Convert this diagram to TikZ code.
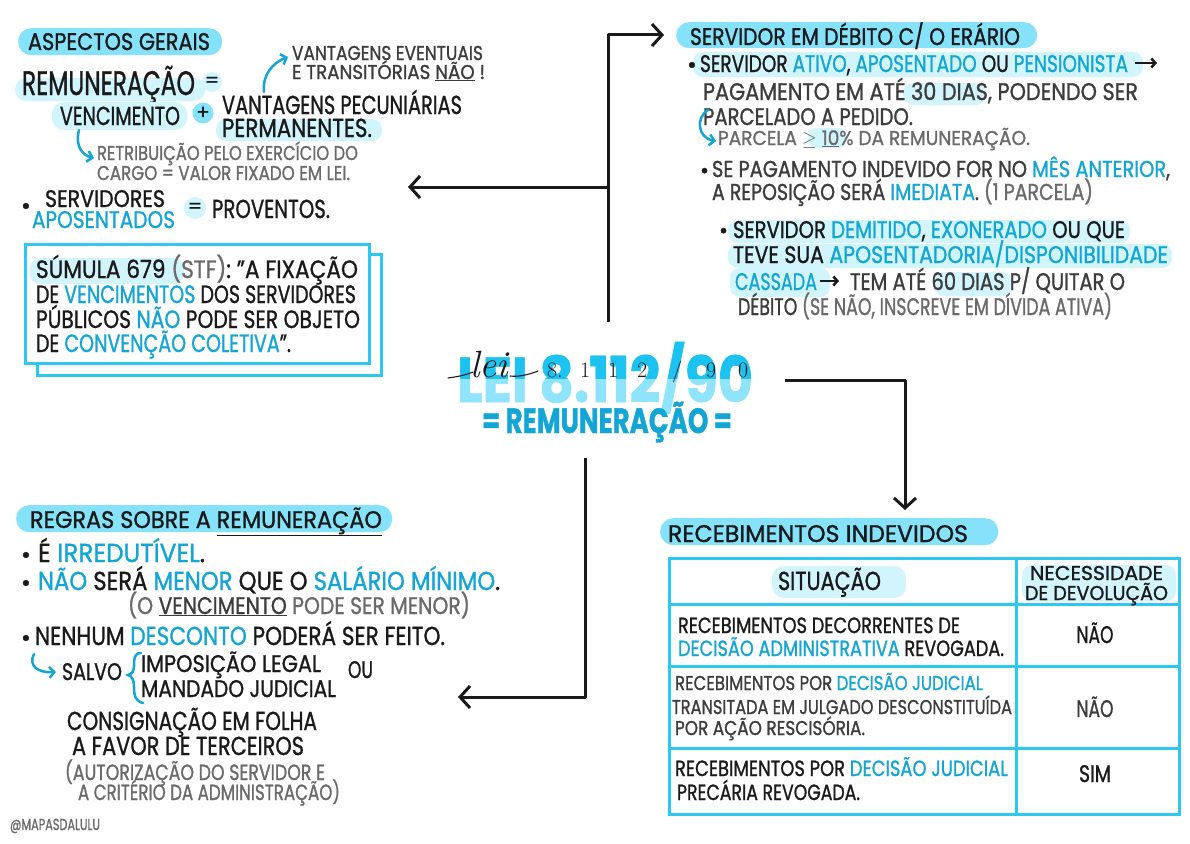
\documentclass[tikz,border=0pt]{standalone}
\usepackage{fontspec}
\usepackage{graphicx}
\usetikzlibrary{arrows.meta}
\setmainfont{Poppins}[FakeBold=1.2]
\newfontfamily\cur{Latin Modern Roman}
\definecolor{pillc}{HTML}{86E2FA}
\definecolor{palec}{HTML}{D2F4FC}
\definecolor{blu}{HTML}{12A5D6}
\definecolor{cyl}{HTML}{2BC8F2}
\definecolor{gry}{HTML}{6A6A6A}
\definecolor{ink}{HTML}{1A1A1A}
\definecolor{dk}{HTML}{3C3C3C}
\definecolor{leitop}{HTML}{1CC2F0}
\definecolor{leibot}{HTML}{8FE4FB}
\newsavebox\fitbox
\newcommand\fitx[2]{\sbox\fitbox{#2}\pgfmathsetmacro\fitf{#1/\the\wd\fitbox}\scalebox{\fitf}[1]{\usebox\fitbox}}
\newcommand\fs[1]{\fontsize{#1}{#1}\selectfont}
\newcommand\hb[1]{\textcolor{blu}{#1}}
\newcommand\hg[1]{\textcolor{gry}{#1}}
\begin{document}
\begin{tikzpicture}[x=1pt,y=-1pt,
  t/.style={anchor=base west, inner sep=0pt, outer sep=0pt, text=ink},
  dg/.style={anchor=base west, inner sep=0pt, outer sep=0pt, text=ink, font=\cur\fs{22}},
  pill/.style={fill=pillc, rounded corners=13pt, inner sep=0pt, anchor=north west},
  hl/.style={fill=palec, rounded corners=10pt},
  arr/.style={line width=3pt, ink, line join=round, -{Straight Barb[length=10pt,width=22pt]}},
  barr/.style={line width=2.5pt, blu, line cap=round, -{Straight Barb[length=5pt,width=11pt]}},
  cbox/.style={draw=cyl, line width=3pt, inner sep=0pt, anchor=north west},
  dot/.style={circle, inner sep=0pt, font=\fs{20}, text=ink}]
\useasboundingbox[fill=white] (0,0) rectangle (1190,843);

% ================= TOP LEFT =================
\node[pill, minimum width=204, minimum height=27] (asp) at (18,28) {};
\node[t, font=\fs{24}] (aspT) at (28,50) {\fitx{182}{ASPECTOS GERAIS}};

\fill[hl, rounded corners=11pt] (15,78) rectangle (205,101);
\node[t, font=\fs{34}] (rem) at (22,95) {\fitx{173}{REMUNERAÇÃO}};
\node[dot, fill=palec, minimum size=20] (eq1) at (212,82) {=};

\fill[hl, rounded corners=12pt] (52,102) rectangle (187,130);
\node[t, font=\fs{26}] (venc) at (60,125) {\fitx{120}{VENCIMENTO}};
\node[dot, fill=pillc, minimum size=21] (plus) at (203,113) {+};
\fill[hl] (216,119) rectangle (382,141);
\node[t, font=\fs{26}] (vp1) at (222,114) {\fitx{240}{VANTAGENS PECUNIÁRIAS}};
\node[t, font=\fs{26}] (vp2) at (222,137) {\fitx{150}{PERMANENTES.}};

\coordinate (a1s) at (264,92); \coordinate (a1e) at (288,57);
\draw[barr] (a1s) .. controls (262,76) and (272,63) .. (a1e);
\node[t, font=\fs{20}, text=dk] (ve1) at (292,60) {\fitx{191}{VANTAGENS EVENTUAIS}};
\node[t, font=\fs{20}, text=dk] (ve2) at (292,79) {\fitx{193}{E TRANSITÓRIAS \underline{NÃO} !}};

\coordinate (a2s) at (79,130); \coordinate (a2e) at (94,158);
\draw[barr] (a2s) .. controls (75,146) and (82,155) .. (a2e);
\node[t, font=\fs{20}, text=gry] (ret1) at (97,160) {\fitx{261}{RETRIBUIÇÃO PELO EXERCÍCIO DO}};
\node[t, font=\fs{20}, text=gry] (ret2) at (97,180) {\fitx{253}{CARGO = VALOR FIXADO EM LEI.}};

\node[t, font=\fs{24}] (bul1) at (21,214) {\textbullet};
\node[t, font=\fs{24}] (serv) at (45,207) {\fitx{120}{SERVIDORES}};
\node[t, font=\fs{24}, text=blu] (apo) at (32,228) {\fitx{143}{APOSENTADOS}};
\node[dot, fill=palec, minimum size=22] (eq2) at (195,208) {=};
\node[t, font=\fs{26}] (prov) at (212,218) {\fitx{118}{PROVENTOS.}};

% Sumula box
\node[cbox, minimum width=344, minimum height=121] (sumB) at (36,253) {};
\node[cbox, fill=white, minimum width=344, minimum height=119] (sum) at (24,243) {};
\fill[hl] (30,258) rectangle (184,284);
\node[t, font=\fs{25}] (s1) at (36,278) {\fitx{322}{SÚMULA 679 \hg{(STF)}: ”A FIXAÇÃO}};
\node[t, font=\fs{25}] (s2) at (36,303) {\fitx{320}{DE \hb{VENCIMENTOS} DOS SERVIDORES}};
\node[t, font=\fs{25}] (s3) at (36,328) {\fitx{324}{PÚBLICOS \hb{NÃO} PODE SER OBJETO}};
\node[t, font=\fs{25}] (s4) at (36,352) {\fitx{255}{DE \hb{CONVENÇÃO COLETIVA}”.}};

% ================= CENTER =================
\node[t, text=leibot, font=\bfseries\fs{60}] (lei) at (457,402) {\resizebox{296pt}{60pt}{LEI 8.112/90}};
\begin{scope}
\clip (440,330) rectangle (780,378);
\node[t, text=leitop, font=\bfseries\fs{60}] (leiT) at (457,402) {\resizebox{296pt}{60pt}{LEI 8.112/90}};
\end{scope}
\node[t, font=\cur\itshape\fs{38}] (leic) at (470,377) {lei};
\coordinate (leiA) at (448,378); \coordinate (leiB) at (473,372);
\coordinate (leiC) at (510,376); \coordinate (leiD) at (538,371);
\draw[ink, line width=1.1pt, line cap=round] (leiA) .. controls (456,377) and (466,375) .. (leiB);
\draw[ink, line width=1.1pt, line cap=round] (leiC) .. controls (518,377) and (528,375) .. (leiD);
\node[dg] (d8) at (547,377) {8.};
\node[dg] (d1) at (580,377) {1};
\node[dg] (d2) at (608,377) {1};
\node[dg] (d3) at (637,377) {2};
\node[dg] (d4) at (672,377) {/};
\node[dg] (d5) at (706,377) {9};
\node[dg] (d6) at (738,377) {0};
\node[t, text=blu, font=\bfseries\fs{35}] (remc) at (482,433) {\fitx{250}{= REMUNERAÇÃO =}};

\coordinate (hubT) at (608,322); \coordinate (bendT) at (608,35); \coordinate (debIn) at (664,35);
\draw[arr] (hubT) -- (bendT) -- (debIn);
\coordinate (hubL) at (608,187); \coordinate (aspIn) at (408,187);
\draw[arr] (hubL) -- (aspIn);
\coordinate (hubR) at (785,380); \coordinate (bendR) at (905,380); \coordinate (recIn) at (905,510);
\draw[arr] (hubR) -- (bendR) -- (recIn);
\coordinate (hubB) at (585,458); \coordinate (bendB) at (585,697); \coordinate (regIn) at (458,697);
\draw[arr] (hubB) -- (bendB) -- (regIn);

% ================= TOP RIGHT =================
\node[pill, minimum width=361, minimum height=26] (deb) at (676,22) {};
\node[t, font=\fs{24}] (debT) at (690,45) {\fitx{330}{SERVIDOR EM DÉBITO C/ O ERÁRIO}};

\fill[hl] (693,52) rectangle (1143,77);
\node[t, font=\fs{24}] (bul2) at (687,73) {\textbullet};
\node[t, font=\fs{24}] (r1) at (700,72) {\fitx{428}{SERVIDOR \hb{ATIVO}, \hb{APOSENTADO} OU \hb{PENSIONISTA}}};
\coordinate (r1a) at (1135,63); \coordinate (r1b) at (1157,63);
\draw[line width=2.5pt, ink, -{Straight Barb[length=4pt,width=9pt]}] (r1a) -- (r1b);

\fill[hl] (903,83) rectangle (986,105);
\node[t, font=\fs{24}, text=dk] (r2) at (703,100) {\fitx{435}{PAGAMENTO EM ATÉ 30 DIAS, PODENDO SER}};
\node[t, font=\fs{24}, text=dk] (r3) at (703,125) {\fitx{210}{PARCELADO A PEDIDO.}};
\coordinate (a3s) at (708,110); \coordinate (a3e) at (716,141);
\draw[barr] (a3s) .. controls (695,118) and (698,138) .. (a3e);
\fill[hl, rounded corners=8pt] (808,128) rectangle (846,148);
\node[t, font=\fs{20}, text=gry] (r4) at (718,145) {\fitx{312}{PARCELA $\geq$ \underline{10}\% DA REMUNERAÇÃO.}};

\node[t, font=\fs{22}] (bul3) at (700,178) {\textbullet};
\node[t, font=\fs{23}, text=dk] (r5) at (712,177) {\fitx{458}{SE PAGAMENTO INDEVIDO FOR NO \hb{MÊS ANTERIOR},}};
\node[t, font=\fs{23}, text=dk] (r6) at (712,200) {\fitx{381}{A REPOSIÇÃO SERÁ \hb{IMEDIATA}. \hg{(1 PARCELA)}}};

\fill[hl] (728,220) rectangle (1130,243);
\fill[hl] (728,244) rectangle (1172,268);
\fill[hl] (730,268) rectangle (830,297);
\fill[hl] (934,272) rectangle (1012,296);
\node[t, font=\fs{22}] (bul4) at (719,238) {\textbullet};
\node[t, font=\fs{24}] (r7) at (733,238) {\fitx{392}{SERVIDOR \hb{DEMITIDO}, \hb{EXONERADO} OU QUE}};
\node[t, font=\fs{24}] (r8) at (733,263) {\fitx{435}{TEVE SUA \hb{APOSENTADORIA/DISPONIBILIDADE}}};
\node[t, font=\fs{24}, text=blu] (r9a) at (735,290) {\fitx{82}{CASSADA}};
\coordinate (r9p) at (820,281); \coordinate (r9q) at (839,281);
\draw[line width=2.5pt, ink, -{Straight Barb[length=4pt,width=9pt]}] (r9p) -- (r9q);
\node[t, font=\fs{24}, text=dk] (r9b) at (850,290) {\fitx{275}{TEM ATÉ 60 DIAS P/ QUITAR O}};
\node[t, font=\fs{24}, text=dk] (r10) at (738,315) {\fitx{374}{DÉBITO \hg{(SE NÃO, INSCREVE EM DÍVIDA ATIVA)}}};

% ================= BOTTOM LEFT =================
\node[pill, minimum width=376, minimum height=27] (reg) at (16,505) {};
\node[t, font=\fs{24}] (regT) at (30,528) {\fitx{352}{REGRAS SOBRE A \underline{REMUNERAÇÃO}}};
\node[t, font=\fs{24}] (bul5) at (21,563) {\textbullet};
\node[t, font=\fs{26}] (b1) at (38,562) {\fitx{167}{É \hb{IRREDUTÍVEL}.}};
\node[t, font=\fs{24}] (bul6) at (21,591) {\textbullet};
\node[t, font=\fs{26}] (b2) at (38,590) {\fitx{462}{\hb{NÃO} SERÁ \hb{MENOR} QUE O \hb{SALÁRIO MÍNIMO}.}};
\node[t, font=\fs{24}, text=gry] (b3) at (128,614) {\fitx{342}{(O \textcolor{dk}{\underline{VENCIMENTO}} PODE SER MENOR)}};
\node[t, font=\fs{24}] (bul7) at (21,646) {\textbullet};
\node[t, font=\fs{26}] (b4) at (35,645) {\fitx{410}{NENHUM \hb{DESCONTO} PODERÁ SER FEITO.}};
\coordinate (a4s) at (34,654); \coordinate (a4e) at (56,672);
\draw[barr] (a4s) .. controls (28,666) and (38,673) .. (a4e);
\node[t, font=\fs{24}] (salvo) at (62,680) {\fitx{60}{SALVO}};
\draw[blu, line width=2.5pt, line cap=round] (141,653) .. controls (134,653) and (134,659) .. (134,666) .. controls (134,671) and (132,674) .. (128,675) .. controls (132,676) and (134,680) .. (134,687) .. controls (134,697) and (136,701) .. (143,703);
\node[t, font=\fs{24}] (imp) at (141,672) {\fitx{180}{IMPOSIÇÃO LEGAL}};
\node[t, font=\fs{24}] (man) at (141,697) {\fitx{195}{MANDADO JUDICIAL}};
\node[t, font=\fs{24}] (ou) at (348,678) {\fitx{25}{OU}};
\node[t, font=\fs{26}] (con1) at (67,730) {\fitx{250}{CONSIGNAÇÃO EM FOLHA}};
\node[t, font=\fs{26}] (con2) at (72,755) {\fitx{232}{A FAVOR DE TERCEIROS}};
\node[t, font=\fs{22}, text=gry] (aut1) at (65,780) {\fitx{260}{(AUTORIZAÇÃO DO SERVIDOR E}};
\node[t, font=\fs{22}, text=gry] (aut2) at (78,800) {\fitx{262}{A CRITÉRIO DA ADMINISTRAÇÃO)}};
\node[t, font=\fs{16}, text=gry] (handle) at (10,830) {\fitx{90}{@MAPASDALULU}};

% ================= BOTTOM RIGHT =================
\node[pill, minimum width=338, minimum height=27] (rec) at (660,518) {};
\node[t, font=\fs{24}] (recT) at (668,542) {\fitx{300}{RECEBIMENTOS INDEVIDOS}};

\node[cbox, minimum width=510, minimum height=256] (tab) at (668,557) {};
\draw[cyl, line width=3pt] (1016,557) -- (1016,813);
\draw[cyl, line width=3pt] (668,604) -- (1178,604);
\draw[cyl, line width=3pt] (668,666) -- (1178,666);
\draw[cyl, line width=3pt] (668,748) -- (1178,748);

\fill[hl, rounded corners=12pt] (772,566) rectangle (906,598);
\fill[hl] (1022,565) rectangle (1176,601);
\node[t, font=\fs{26}] (sit) at (778,590) {\fitx{103}{SITUAÇÃO}};
\node[t, font=\fs{20}] (nec1) at (1030,580) {\fitx{133}{NECESSIDADE}};
\node[t, font=\fs{20}] (nec2) at (1025,600) {\fitx{143}{DE DEVOLUÇÃO}};

\node[t, font=\fs{22}] (t1a) at (678,633) {\fitx{282}{RECEBIMENTOS DECORRENTES DE}};
\node[t, font=\fs{22}] (t1b) at (678,656) {\fitx{326}{\hb{DECISÃO ADMINISTRATIVA} REVOGADA.}};
\node[anchor=base, inner sep=0pt, font=\fs{24}, text=ink] (t1c) at (1095,643) {\fitx{37}{NÃO}};

\node[t, font=\fs{20}, text=dk] (t2a) at (675,690) {\fitx{308}{RECEBIMENTOS POR \hb{DECISÃO JUDICIAL}}};
\node[t, font=\fs{20}, text=dk] (t2b) at (672,714) {\fitx{340}{TRANSITADA EM JULGADO DESCONSTITUÍDA}};
\node[t, font=\fs{20}, text=dk] (t2c) at (675,735) {\fitx{190}{POR AÇÃO RESCISÓRIA.}};
\node[anchor=base, inner sep=0pt, font=\fs{24}, text=dk] (t2d) at (1095,717) {\fitx{37}{NÃO}};

\node[t, font=\fs{22}] (t3a) at (675,776) {\fitx{333}{RECEBIMENTOS POR \hb{DECISÃO JUDICIAL}}};
\node[t, font=\fs{22}] (t3b) at (677,800) {\fitx{183}{PRECÁRIA REVOGADA.}};
\node[anchor=base, inner sep=0pt, font=\fs{24}, text=ink] (t3c) at (1095,782) {\fitx{32}{SIM}};
\end{tikzpicture}
\end{document}
